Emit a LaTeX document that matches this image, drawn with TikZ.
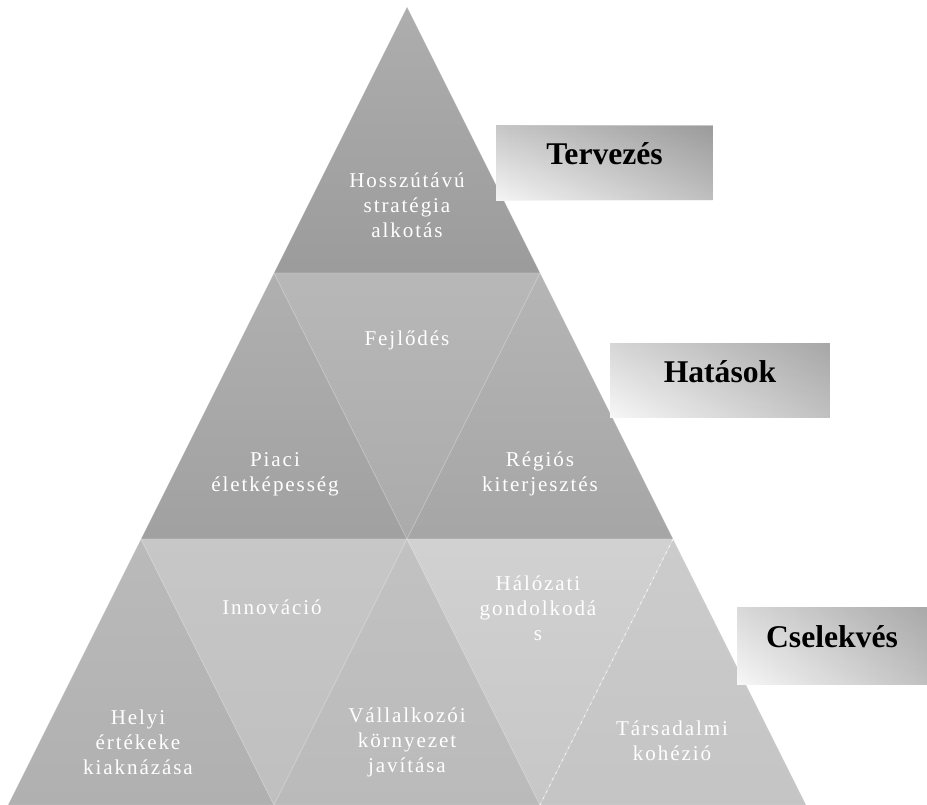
\documentclass[tikz,border=0pt]{standalone}
\usepackage{fontspec}
\setmainfont{Liberation Serif}
\newfontfamily\trifont[LetterSpace=9]{Liberation Serif}
\usetikzlibrary{positioning,fadings}
\tikzset{
	tri/.style 2 args={top color=#1, bottom color=#2, draw=white, draw opacity=0.15, line width=0.4pt}, % shaded part of the pyramid
	txt/.style={text=white, align=center, inner sep=0pt, font={\trifont\fontsize{12}{14.2}\selectfont}},
	levelbox/.style={rectangle, minimum height=1.5cm, text height=16pt, text depth=14pt, font=\bfseries\fontsize{18}{20}\selectfont,
		path picture={\fill[black, opacity=0.22, path fading=west] (path picture bounding box.south west) rectangle (path picture bounding box.north east);}}
}

\begin{document}
\begin{tikzpicture}[x=0.02cm, y=-0.02cm]
	\useasboundingbox (0,0) rectangle (927,805);
	% corners of the pyramid
	\coordinate (P0) at (407,7);
	\coordinate (P1) at (274,273);
	\coordinate (P2) at (540,273);
	\coordinate (P3) at (141,539);
	\coordinate (P4) at (407,539);
	\coordinate (P5) at (673,539);
	\coordinate (P6) at (8,805);
	\coordinate (P7) at (274,805);
	\coordinate (P8) at (540,805);
	\coordinate (P9) at (806,805);
	% top row
	\path[tri={black!32}{black!39}] (P0) -- (P1) -- (P2) -- cycle;
	% middle row
	\path[tri={black!31}{black!37}] (P1) -- (P3) -- (P4) -- cycle;
	\path[tri={black!28}{black!33}] (P1) -- (P2) -- (P4) -- cycle;
	\path[tri={black!29}{black!35}] (P2) -- (P4) -- (P5) -- cycle;
	% bottom row
	\path[tri={black!27}{black!31}] (P3) -- (P6) -- (P7) -- cycle;
	\path[tri={black!22}{black!25}] (P3) -- (P4) -- (P7) -- cycle;
	\path[tri={black!24}{black!27}] (P4) -- (P7) -- (P8) -- cycle;
	\path[tri={black!18}{black!22}] (P4) -- (P5) -- (P8) -- cycle;
	\path[tri={black!20}{black!23}] (P5) -- (P8) -- (P9) -- cycle;
	\draw[white, draw opacity=0.8, line width=0.4pt, dash pattern=on 1.5pt off 2.5pt] (P5) -- (P8);
	% texts
	\node[txt] (HS) at (407,205) {Hosszútávú\\stratégia\\alkotás};
	\node[txt] (FE) at (407,340) {Fejlődés};
	\node[txt] (PI) at (275,474) {Piaci\\életképesség};
	\node[txt] (RE) at (540,474) {Régiós\\kiterjesztés};
	\node[txt] (IN) at (272,607) {Innováció};
	\node[txt] (HG) at (538,608) {Hálózati\\gondolkodá\\s};
	\node[txt] (HE) at (138,742) {Helyi\\értékeke\\kiaknázása};
	\node[txt] (VA) at (407,742) {Vállalkozói\\környezet\\javítása};
	\node[txt] (TK) at (672,741) {Társadalmi\\kohézió};
	% level boxes
	\node[levelbox, minimum width=4.34cm, top color=black!22, bottom color=black!4] (TV) at (604.5,163) {Tervezés};
	\node[levelbox, minimum width=4.4cm, top color=black!16, bottom color=black!3] (HT) at (720,380.5) {Hatások};
	\node[levelbox, minimum width=3.8cm, minimum height=1.56cm, top color=black!15, bottom color=black!3] (CS) at (832,646) {Cselekvés};
\end{tikzpicture}
\end{document}
